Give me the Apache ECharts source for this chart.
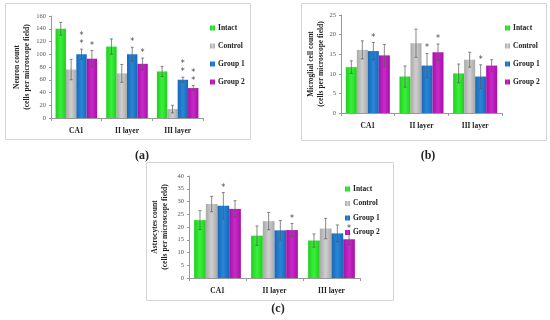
<!DOCTYPE html>
<html>
<head>
<meta charset="utf-8">
<script src="https://cdn.jsdelivr.net/npm/echarts@6/dist/echarts.min.js"></script>
<style>html,body{margin:0;padding:0;background:#fff}#c{width:550px;height:320px}</style>
</head>
<body>
<div id="c"></div>
<script>
const categories = ['CA1', 'II layer', 'III layer'];
const groups = ['Intact', 'Control', 'Group 1', 'Group 2'];

// (a) Neuron count, rows = groups
const neuronMeans = [[140, 112, 73], [76, 70, 14], [100, 100, 60], [93, 85, 47]];
const neuronErrs  = [[10, 12, 8], [16, 14, 6], [8, 11, 4], [13, 9, 4]];
const neuronStars = [[0, 0, 0], [0, 0, 0], [2, 1, 2], [1, 1, 2]];
const neuronTicks = { max: 160, interval: 20 };

// (b) Microglial cell count
const microMeans = [[11.7, 9.3, 10.1], [16.1, 17.8, 13.6], [15.8, 12.1, 9.3], [14.7, 15.5, 12.1]];
const microErrs  = [[1.6, 2.7, 2.4], [2.3, 3.6, 1.9], [2.2, 3.1, 3.0], [2.8, 2.1, 1.5]];
const microStars = [[0, 0, 0], [0, 0, 0], [1, 1, 1], [0, 1, 0]];
const microTicks = { max: 25, interval: 5 };

// (c) Astrocytes count
const astroMeans = [[22.7, 16.6, 14.7], [29.0, 22.3, 19.4], [28.3, 18.7, 17.5], [27.1, 18.8, 15.2]];
const astroErrs  = [[3.7, 3.8, 2.6], [3.0, 3.4, 4.0], [5.2, 3.8, 3.3], [3.2, 2.6, 2.1]];
const astroStars = [[0, 0, 0], [0, 0, 0], [1, 0, 0], [0, 1, 1]];
const astroTicks = { max: 40, interval: 5 };

const yNames = ['Neuron count\n(cells per microscope field)',
                'Microglial cell count\n(cells per microscope field)',
                'Astrocytes count\n(cells per microscope field)'];
const panelLabels = ['(a)', '(b)', '(c)'];

const SERIF = '"Liberation Serif", "DejaVu Serif", serif';
const GAP = 0.18;
const colorEdges = ['#1ccf1c', '#a8a8a8', '#1768b8', '#a80fa8'];
const colorMids  = ['#3cef3c', '#cfcfcf', '#2a86d8', '#c82ac8'];

function grad(i) {
  return new echarts.graphic.LinearGradient(0, 0, 1, 0, [
    { offset: 0, color: colorEdges[i] },
    { offset: 0.5, color: colorMids[i] },
    { offset: 1, color: colorEdges[i] }
  ]);
}

const panelData = [
  { means: neuronMeans, errs: neuronErrs, stars: neuronStars, ticks: neuronTicks },
  { means: microMeans, errs: microErrs, stars: microStars, ticks: microTicks },
  { means: astroMeans, errs: astroErrs, stars: astroStars, ticks: astroTicks }
];

const layout = [
  { grid: { left: 51, top: 16, width: 152, height: 102 }, legend: { left: 210, top: 24, itemGap: 10 }, title: { left: 137, top: 145 }, box: [5, 3, 245, 136], nameGap: 17 },
  { grid: { left: 341, top: 15, width: 161, height: 98 }, legend: { left: 505, top: 24, itemGap: 10 }, title: { left: 423, top: 145 }, box: [301, 3, 245, 137], nameGap: 15 },
  { grid: { left: 189, top: 176, width: 171, height: 102 }, legend: { left: 345, top: 185, itemGap: 6.5 }, title: { left: 273, top: 298 }, box: [146, 162, 247, 138], nameGap: 19 }
];

function errRender(params, api) {
  const cat = api.value(0), bi = api.value(1), v = api.value(2), e = api.value(3);
  const band = api.size([1, 0])[0];
  const w = band * (1 - GAP) / 4;
  const cx = api.coord([cat, v])[0] - band * (1 - GAP) / 2 + w * (bi + 0.5);
  const top = api.coord([cat, v + e])[1];
  const bot = api.coord([cat, v - e])[1];
  const st = { stroke: '#555', lineWidth: 0.7 };
  return {
    type: 'group',
    children: [
      { type: 'line', shape: { x1: cx, y1: top, x2: cx, y2: bot }, style: st },
      { type: 'line', shape: { x1: cx - 1.5, y1: top, x2: cx + 1.5, y2: top }, style: st },
      { type: 'line', shape: { x1: cx - 1.5, y1: bot, x2: cx + 1.5, y2: bot }, style: st }
    ]
  };
}

function starRender(params, api) {
  const cat = api.value(0), bi = api.value(1), v = api.value(2), e = api.value(3), n = api.value(4);
  const band = api.size([1, 0])[0];
  const w = band * (1 - GAP) / 4;
  const cx = api.coord([cat, v])[0] - band * (1 - GAP) / 2 + w * (bi + 0.5);
  const top = api.coord([cat, v + e])[1];
  const kids = [];
  for (let k = 0; k < n; k++) {
    kids.push({ type: 'text', style: { text: '*', x: cx, y: top - 5 - 8 * k, align: 'center', verticalAlign: 'middle', fontSize: 8, fontFamily: 'DejaVu Sans', fill: '#444' } });
  }
  return { type: 'group', children: kids };
}

const option = {
  animation: false,
  backgroundColor: '#fff',
  title: [], legend: [], grid: [], xAxis: [], yAxis: [], series: [],
  graphic: []
};

panelData.forEach((p, pi) => {
  const L = layout[pi];
  option.graphic.push({ type: 'rect', shape: { x: L.box[0] + 0.5, y: L.box[1] + 0.5, width: L.box[2], height: L.box[3] }, style: { fill: null, stroke: '#d4d4d4', lineWidth: 1 }, z: -1 });
  option.title.push({ text: panelLabels[pi], left: L.title.left, top: L.title.top, textAlign: 'center', textStyle: { fontFamily: SERIF, fontSize: 12, fontWeight: 'bold', color: '#222' } });
  option.legend.push({
    orient: 'vertical', left: L.legend.left, top: L.legend.top, itemGap: L.legend.itemGap,
    itemWidth: 5, itemHeight: 5, icon: 'rect', data: groups,
    textStyle: { fontFamily: SERIF, fontSize: 7.5, fontWeight: 'bold', color: '#222', padding: [0, 0, 0, -2] },
    padding: 0
  });
  option.grid.push(L.grid);
  option.xAxis.push({
    type: 'category', gridIndex: pi, data: categories,
    axisLine: { lineStyle: { color: '#999', width: 1 } },
    axisTick: { show: true, length: 3, lineStyle: { color: '#999' } },
    axisLabel: { fontFamily: SERIF, fontSize: 7.5, fontWeight: 'bold', color: '#222', margin: 9 }
  });
  option.yAxis.push({
    type: 'value', gridIndex: pi, min: 0, max: p.ticks.max, interval: p.ticks.interval,
    name: yNames[pi], nameLocation: 'middle', nameGap: L.nameGap, nameRotate: 90,
    nameTextStyle: { fontFamily: SERIF, fontSize: 7.5, fontWeight: 'bold', color: '#222', lineHeight: 10 },
    axisLine: { show: true, lineStyle: { color: '#999', width: 1 } },
    axisTick: { show: true, length: 2, lineStyle: { color: '#999' } },
    splitLine: { show: false },
    axisLabel: { fontFamily: SERIF, fontSize: 6.5, color: '#555', margin: 5 }
  });
  groups.forEach((g, gi) => {
    option.series.push({
      type: 'bar', name: g, xAxisIndex: pi, yAxisIndex: pi,
      data: p.means[gi], barGap: '0%', barCategoryGap: (GAP * 100) + '%',
      itemStyle: { color: grad(gi) }
    });
  });
  const errData = [], starData = [];
  groups.forEach((g, gi) => {
    categories.forEach((c, ci) => {
      errData.push([ci, gi, p.means[gi][ci], p.errs[gi][ci]]);
      if (p.stars[gi][ci] > 0) starData.push([ci, gi, p.means[gi][ci], p.errs[gi][ci], p.stars[gi][ci]]);
    });
  });
  option.series.push({ type: 'custom', xAxisIndex: pi, yAxisIndex: pi, renderItem: errRender, data: errData, encode: { x: 0, y: 2 }, z: 5, silent: true });
  option.series.push({ type: 'custom', xAxisIndex: pi, yAxisIndex: pi, renderItem: starRender, data: starData, encode: { x: 0, y: 2 }, z: 6, silent: true });
});

const chart = echarts.init(document.getElementById('c'), null, { renderer: 'canvas' });
chart.setOption(option);
</script>
</body>
</html>
